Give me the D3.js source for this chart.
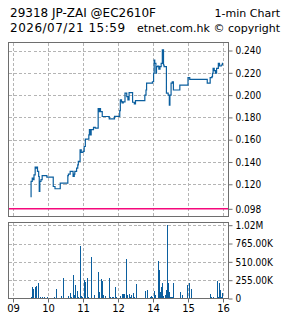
<!DOCTYPE html>
<html>
<head>
<meta charset="utf-8">
<script src="https://cdn.jsdelivr.net/npm/d3@7"></script>
<style>
  body { margin: 0; background: #fff; }
  svg { display: block; }
  .lbl { font-family: "DejaVu Sans Condensed", "DejaVu Sans", sans-serif; font-size: 10px; fill: #000; }
  .tlbl { font-family: "DejaVu Sans", sans-serif; font-size: 10px; fill: #000; }
  .head { font-family: "DejaVu Sans", sans-serif; font-size: 12px; fill: #000; }
</style>
</head>
<body>
<div id="chart"></div>
<script>
// price series (1-min, time of change / price)
var priceTimes = ["09:30","09:31","09:33","09:34","09:36","09:38","09:39","09:40","09:42","09:44",
  "09:45","09:46","09:48","09:50","09:58","10:09","10:12","10:21","10:34","10:35",
  "10:38","10:43","10:45","10:46","10:49","10:51","10:52","10:55","10:57","11:00",
  "11:02","11:04","11:10","11:11","11:13","11:14","11:18","11:21","11:26","11:27",
  "11:28","11:30","11:33","11:45","11:54","13:03","13:04","13:06","13:07","13:09",
  "13:12","13:15","13:17","13:19","13:25","13:28","13:30","13:46","13:48","13:49",
  "13:59","14:01","14:02","14:03","14:05","14:06","14:08","14:10","14:12","14:14",
  "14:16","14:18","14:19","14:23","14:26","14:28","14:29","14:31","14:33","14:35",
  "14:46","15:00","15:03","15:33","15:38","15:41","15:42","15:43","15:45","15:47",
  "15:49","15:52","15:54","15:57","15:59"];
var priceValues = [0.109,0.1226,0.1256,0.1241,0.1285,0.1354,0.1345,0.1354,0.1315,0.127,
  0.1136,0.1226,0.1241,0.1277,0.1265,0.118,0.116,0.121,0.1277,0.1292,
  0.1315,0.127,0.1292,0.1315,0.1345,0.1375,0.1405,0.151,0.1485,0.1495,
  0.1539,0.1605,0.1644,0.169,0.1644,0.169,0.171,0.1703,0.188,0.1852,
  0.188,0.1852,0.1808,0.1787,0.181,0.1861,0.1957,0.1942,0.193,0.194,
  0.2017,0.1987,0.1957,0.2023,0.1936,0.1921,0.195,0.200,0.2046,0.2107,
  0.212,0.2196,0.2315,0.2285,0.2196,0.2255,0.226,0.2232,0.2255,0.2285,
  0.2405,0.227,0.2255,0.2017,0.200,0.191,0.200,0.2107,0.212,0.2046,
  0.209,0.2157,0.2142,0.2107,0.2157,0.2165,0.2196,0.224,0.222,0.2196,
  0.224,0.2285,0.2261,0.227,0.229];
var prevClose = 0.098;

// volume bars (time / volume in K)
var volTimes = ["09:31","09:33","09:34","09:37","09:38","09:40","09:42","09:47","09:50","09:54",
  "09:59","10:11","10:13","10:23","10:25","10:26","10:35","10:37","10:38","10:40",
  "10:42","10:43","10:45","10:47","10:49","10:50","10:52","10:55","10:57","10:59",
  "11:01","11:02","11:04","11:06","11:07","11:09","11:13","11:14","11:18","11:19",
  "11:26","11:28","11:30","11:31","11:33","11:35","11:37","11:38","11:45","11:47",
  "11:50","11:52","11:54","11:56","13:04","13:06","13:07","13:09","13:11","13:13",
  "13:14","13:16","13:18","13:19","13:21","13:23","13:25","13:26","13:28","13:31",
  "13:47","13:49","13:50","13:55","13:57","13:58","14:02","14:03","14:09","14:10",
  "14:12","14:14","14:15","14:17","14:21","14:22","14:24","14:26","14:27","14:29",
  "14:31","14:33","14:34","14:46","14:50","14:59","15:01","15:06","15:37","15:40",
  "15:43","15:49","15:51","15:53","15:54","15:56","15:58","15:59"];
var volValues = [14,163,130,14,163,172,210,14,14,14,
  14,14,130,30,280,200,28,47,80,14,
  326,70,47,186,28,102,14,736,28,14,
  116,256,233,280,186,14,577,14,30,47,
  368,93,70,265,242,47,30,14,280,14,
  14,14,154,14,30,47,56,61,56,205,
  545,47,14,61,14,47,14,70,14,200,
  102,102,116,14,37,14,102,47,521,396,
  93,154,219,30,47,116,1020,210,93,14,
  14,14,219,84,47,186,210,130,61,14,
  14,247,14,219,116,14,61,70];

// axis labels
var hourTicks = ["09:00","10:00","11:00","12:00","14:00","15:00","16:00"];
var hourLabels = ["09","10","11","12","14","15","16"];
var priceTicks = [0.240,0.220,0.200,0.180,0.160,0.140,0.120];
var volTicks = [1020,765,510,255,0];
var volLabels = ["1.02M","765.00K","510.00K","255.00K","0"];

var svgWidth = 285;
var svgHeight = 318;

// panel boxes
var left = 8.5, right = 228.5;
var priceTop = 42.5, priceBottom = 216.5;
var volTop = 222.5, volBottom = 298.5;

var svg = d3.select("#chart")
  .append("svg")
  .attr("width", svgWidth)
  .attr("height", svgHeight);

// trading minutes from 09:00, lunch hour removed
function tradeMin(t) {
  var p = t.split(":");
  var m = (+p[0]) * 60 + (+p[1]) - 540;
  if (m >= 240) m -= 60;
  return m;
}

var x = d3.scaleLinear().domain([0, 360]).range([13, 223]);
var yPrice = d3.scaleLinear().domain([0.0911, 0.2472]).range([priceBottom, priceTop]);
var yVol = d3.scaleLinear().domain([0, 1057.6]).range([volBottom, volTop]);

var priceData = priceTimes.map(function(t, i) { return { t: tradeMin(t), v: priceValues[i] }; });
var volData = volTimes.map(function(t, i) { return { t: tradeMin(t), v: volValues[i] }; });

var gridColor = "#b4b4b4";
var blue = "#0b5f9f";

// grids
function drawGrid(top, bottom, yVals) {
  var g = svg.append("g")
    .attr("stroke", gridColor)
    .attr("stroke-dasharray", "3,2")
    .attr("shape-rendering", "crispEdges");
  g.selectAll(".v")
    .data(hourTicks)
    .enter()
    .append("line")
    .attr("x1", d => Math.round(x(tradeMin(d))) + 0.5)
    .attr("x2", d => Math.round(x(tradeMin(d))) + 0.5)
    .attr("y1", top)
    .attr("y2", bottom);
  g.selectAll(".h")
    .data(yVals)
    .enter()
    .append("line")
    .attr("x1", left)
    .attr("x2", right)
    .attr("y1", d => d)
    .attr("y2", d => d);
}

drawGrid(priceTop, priceBottom, priceTicks.map(d => Math.round(yPrice(d)) + 0.5));
drawGrid(volTop, volBottom, volTicks.slice(0, 4).map(d => Math.round(yVol(d)) + 0.5));

// previous close line
svg.append("line")
  .attr("x1", left)
  .attr("x2", right)
  .attr("y1", yPrice(prevClose))
  .attr("y2", yPrice(prevClose))
  .attr("stroke", "#f5087c")
  .attr("stroke-width", 1.5);

// price line
var line = d3.line()
  .x(d => x(d.t))
  .y(d => yPrice(d.v))
  .curve(d3.curveStepAfter);

svg.append("path")
  .datum(priceData)
  .attr("d", line)
  .attr("fill", "none")
  .attr("stroke", blue)
  .attr("stroke-width", 1.2);

// volume bars
svg.selectAll(".bar")
  .data(volData)
  .enter()
  .append("rect")
  .attr("x", d => Math.round(x(d.t)))
  .attr("width", 1)
  .attr("y", d => yVol(d.v))
  .attr("height", d => volBottom - yVol(d.v))
  .attr("fill", blue)
  .attr("shape-rendering", "crispEdges");

// panel borders
[[priceTop, priceBottom], [volTop, volBottom]].forEach(function(b) {
  svg.append("rect")
    .attr("x", left)
    .attr("y", b[0])
    .attr("width", right - left)
    .attr("height", b[1] - b[0])
    .attr("fill", "none")
    .attr("stroke", "#6e6e6e")
    .attr("shape-rendering", "crispEdges");
});

// right axis - price
var priceAxis = d3.axisRight(yPrice)
  .tickValues(priceTicks.concat([prevClose]))
  .tickFormat(d3.format(".3f"))
  .tickSize(4)
  .tickPadding(3);

svg.append("g")
  .attr("transform", `translate(${right}, 0)`)
  .call(priceAxis)
  .call(g => g.select(".domain").remove());

// right axis - volume
var volAxis = d3.axisRight(yVol)
  .tickValues(volTicks)
  .tickFormat((d, i) => volLabels[i])
  .tickSize(4)
  .tickPadding(3);

svg.append("g")
  .attr("transform", `translate(${right}, 0)`)
  .call(volAxis)
  .call(g => g.select(".domain").remove());

svg.selectAll(".tick text").attr("class", "lbl").attr("font-family", null).attr("font-size", null);
svg.selectAll(".tick line").attr("stroke", "#6e6e6e");

// bottom axis - hours
var timeAxis = d3.axisBottom(x)
  .tickValues(hourTicks.map(tradeMin))
  .tickFormat((d, i) => hourLabels[i])
  .tickSize(4)
  .tickPadding(2);

var tg = svg.append("g")
  .attr("transform", `translate(0, ${volBottom})`)
  .call(timeAxis)
  .call(g => g.select(".domain").remove());
tg.selectAll(".tick line").attr("stroke", "#6e6e6e");
tg.selectAll(".tick text").attr("class", "tlbl").attr("font-family", null).attr("font-size", null);

// header
svg.append("text").attr("class", "head").attr("x", 10).attr("y", 17).text("29318 JP-ZAI @EC2610F");
svg.append("text").attr("class", "head").attr("x", 280).attr("y", 17)
  .attr("text-anchor", "end").style("font-size", "11px").text("1-min Chart");
svg.append("text").attr("class", "head").attr("x", 10).attr("y", 32)
  .style("letter-spacing", "0.5px").text("2026/07/21 15:59");
svg.append("text").attr("class", "head").attr("x", 280).attr("y", 32)
  .attr("text-anchor", "end").style("font-size", "11px").text("etnet.com.hk © copyright");
</script>
</body>
</html>
